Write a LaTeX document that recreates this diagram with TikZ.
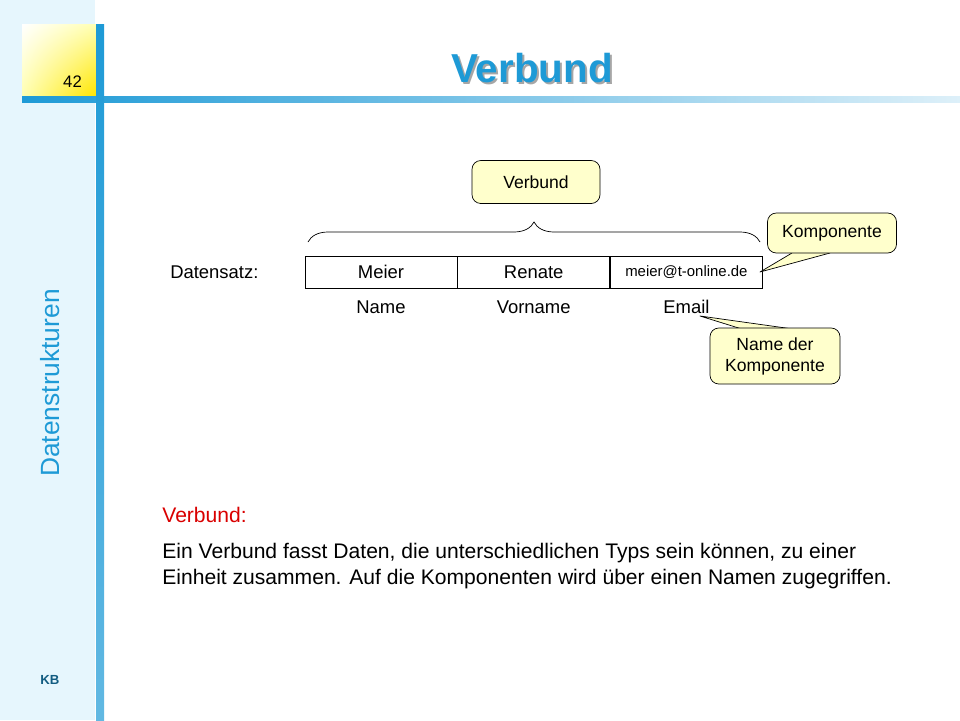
\documentclass[tikz,border=0pt]{standalone}
\usepackage{fontspec}
\setmainfont{Liberation Sans}
\usetikzlibrary{positioning,decorations.pathreplacing,shadings}
\definecolor{kbblue}{HTML}{1E9AD6}
\definecolor{kbstrip}{HTML}{E6F6FD}
\definecolor{noteyellow}{HTML}{FFFFCC}
\tikzset{
  field/.style={draw, minimum width=152\pxu, minimum height=32\pxu, inner sep=0pt, font=\fontsize{10.5}{12}\selectfont},
  fieldname/.style={font=\fontsize{10.5}{12}\selectfont},
  note/.style={draw, rounded corners=5pt, fill=noteyellow, align=center, inner sep=0pt, font=\fontsize{10}{12}\selectfont},
  tail/.style={draw, fill=noteyellow, line join=round}
}
\newlength{\pxu}\setlength{\pxu}{0.02cm}
\begin{document}
\begin{tikzpicture}[x=0.02cm, y=-0.02cm]
  \useasboundingbox (0,0) rectangle (960,720);
  % frame
  \fill[kbstrip] (0,0) rectangle (95,720);
  \shade[upper left=white, lower right=yellow!80!orange, upper right=yellow!30, lower left=yellow!30] (22,24) rectangle (96,96);
  \node[anchor=base east, font=\fontsize{9.5}{11}\selectfont] (page) at (88,87) {42};
  \shade[left color=kbblue, right color=kbblue!15] (22,96) rectangle (960,102);
  \shade[top color=kbblue, bottom color=kbblue!70] (96,24) rectangle (104,720);
  \node[font=\fontsize{23}{26}\bfseries\selectfont, text=black!35] at (534,70) {Verbund};
  \node[font=\fontsize{23}{26}\bfseries\selectfont, text=kbblue] (title) at (532,68) {Verbund};
  \node[rotate=90, text=kbblue, font=\fontsize{15}{17}\selectfont] (topic) at (50,383) {Datenstrukturen};
  \node[font=\fontsize{7.5}{8}\bfseries\selectfont, text=kbblue!60!black] (kb) at (50,680) {KB};
  % record
  \node[field] (meier) at (381,272) {Meier};
  \node[field, right=0pt of meier] (renate) {Renate};
  \node[field, right=0pt of renate, font=\fontsize{8.5}{10}\selectfont] (email) {meier@t-online.de};
  \node[fieldname, left=40\pxu of meier] (satz) {Datensatz:};
  \node[fieldname, below=6\pxu of meier] (n-name) {Name};
  \node[fieldname, below=6\pxu of renate] (n-vorname) {Vorname};
  \node[fieldname, below=6\pxu of email] (n-email) {Email};
  \draw[decorate, decoration={brace, amplitude=20\pxu}] (308,242) -- (760,242);
  % notes
  \node[note, minimum width=128\pxu, minimum height=43\pxu] (verbund) at (536,182) {Verbund};
  \draw[tail] (792,253) -- (760,272) -- (830,253);
  \node[note, minimum width=129\pxu, minimum height=40\pxu] (komp) at (832,233) {Komponente};
  \draw[tail] (745,330) -- (700,316) -- (800,330);
  \node[note, minimum width=130\pxu, minimum height=56\pxu] (kname) at (775,356) {Name der\\Komponente};
  % text
  \node[anchor=west, text=red!85!black, font=\fontsize{12}{14}\selectfont, inner sep=0pt] (head) at (162,515) {Verbund:};
  \node[anchor=north west, align=left, font=\fontsize{12}{15}\selectfont, inner sep=0pt] (body) at (162,543) {Ein Verbund fasst Daten, die unterschiedlichen Typs sein können, zu einer\\Einheit zusammen. Auf die Komponenten wird über einen Namen zugegriffen.};
\end{tikzpicture}
\end{document}
